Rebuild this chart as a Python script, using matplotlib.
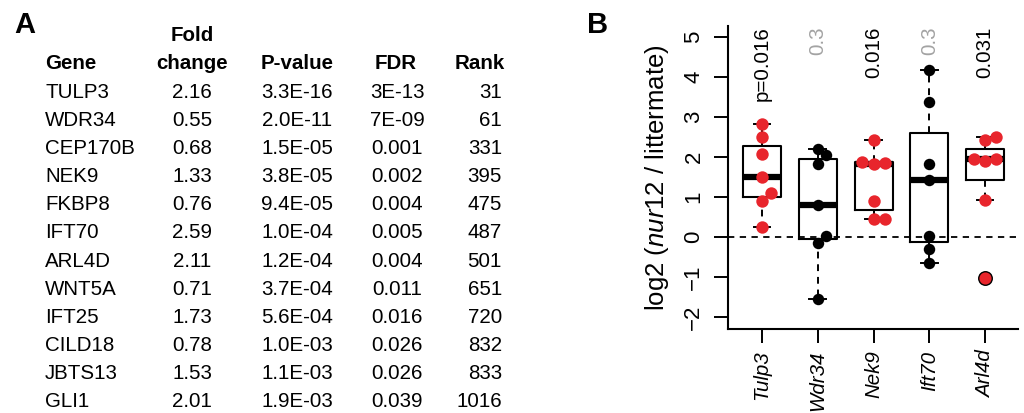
import numpy as np
import matplotlib
matplotlib.use("Agg")
import matplotlib.pyplot as plt

plt.rcParams['font.family'] = ['Liberation Sans', 'DejaVu Sans']
plt.rcParams['mathtext.fontset'] = 'custom'
plt.rcParams['mathtext.rm'] = 'Liberation Sans'
plt.rcParams['mathtext.it'] = 'Liberation Sans:italic'

# ---- panel A table ----
genes = ["TULP3", "WDR34", "CEP170B", "NEK9", "FKBP8", "IFT70", "ARL4D",
         "WNT5A", "IFT25", "CILD18", "JBTS13", "GLI1"]
fold_change = ["2.16", "0.55", "0.68", "1.33", "0.76", "2.59", "2.11",
               "0.71", "1.73", "0.78", "1.53", "2.01"]
p_values = ["3.3E-16", "2.0E-11", "1.5E-05", "3.8E-05", "9.4E-05", "1.0E-04",
            "1.2E-04", "3.7E-04", "5.6E-04", "1.0E-03", "1.1E-03", "1.9E-03"]
fdr = ["3E-13", "7E-09", "0.001", "0.002", "0.004", "0.005", "0.004",
       "0.011", "0.016", "0.026", "0.026", "0.039"]
rank = ["31", "61", "331", "395", "475", "487", "501", "651", "720",
        "832", "833", "1016"]

# ---- panel B data ----
b_genes = ["Tulp3", "Wdr34", "Nek9", "Ift70", "Arl4d"]
b_pvals = ["p=0.016", "0.3", "0.016", "0.3", "0.031"]
b_signif = [True, False, True, False, True]
b_values = [
    [2.82, 2.49, 2.08, 1.50, 1.11, 0.90, 0.26],
    [2.20, 2.05, 1.83, 0.80, 0.03, -0.15, -1.56],
    [2.43, 1.88, 1.83, 1.85, 0.90, 0.45, 0.45],
    [4.18, 3.37, 1.83, 1.42, 0.03, -0.30, -0.64],
    [2.51, 2.43, 1.94, 1.90, 1.96, 0.93, -1.03],
]
# horizontal offsets of the beeswarm points
b_offsets = [
    [0, 0, 0, 0, 0.16, 0, 0],
    [0, 0.15, 0, 0, 0.15, 0, 0],
    [0, -0.2, 0, 0.2, 0, 0, 0.2],
    [0, 0, 0, 0, 0, 0, 0],
    [0.19, 0, -0.2, 0, 0.19, 0, 0],
]

RED = '#e8252c'
W, H = 1024, 413
fig = plt.figure(figsize=(W / 100, H / 100), dpi=100)


def fx(px):
    return px / W


def fy(py):
    return 1 - py / H


fs = 14.8
fig.text(fx(14), fy(33), "A", fontsize=21, fontweight='bold', va='baseline')
fig.text(fx(587), fy(33), "B", fontsize=21, fontweight='bold', va='baseline')

head_y = 69
fig.text(fx(45), fy(head_y), "Gene", fontsize=fs, fontweight='bold')
fig.text(fx(192), fy(head_y - 28), "Fold", fontsize=fs, fontweight='bold', ha='center')
fig.text(fx(192), fy(head_y), "change", fontsize=fs, fontweight='bold', ha='center')
fig.text(fx(297), fy(head_y), "P-value", fontsize=fs, fontweight='bold', ha='center')
fig.text(fx(396), fy(head_y), "FDR", fontsize=fs, fontweight='bold', ha='center')
fig.text(fx(505), fy(head_y), "Rank", fontsize=fs, fontweight='bold', ha='right')

for i in range(len(genes)):
    yb = fy(98 + 28.1 * i)
    fig.text(fx(45), yb, genes[i], fontsize=fs)
    fig.text(fx(192), yb, fold_change[i], fontsize=fs, ha='center')
    fig.text(fx(297), yb, p_values[i], fontsize=fs, ha='center')
    fig.text(fx(397), yb, fdr[i], fontsize=fs, ha='center')
    fig.text(fx(502), yb, rank[i], fontsize=fs, ha='right')

# ---- panel B plot ----
left, right, top, bottom = 728, 1018, 26, 329
ax = fig.add_axes([fx(left), fy(bottom), (right - left) / W, (bottom - top) / H])


def tukey_stats(vals):
    v = np.sort(np.asarray(vals))
    n = len(v)
    n4 = np.floor((n + 3) / 2) / 2
    d = np.array([1, n4, (n + 1) / 2, n + 1 - n4, n]) - 1
    five = 0.5 * (v[np.floor(d).astype(int)] + v[np.ceil(d).astype(int)])
    q1, med, q3 = five[1], five[2], five[3]
    iqr = q3 - q1
    lo_f, hi_f = q1 - 1.5 * iqr, q3 + 1.5 * iqr
    inside = v[(v >= lo_f) & (v <= hi_f)]
    return dict(med=med, q1=q1, q3=q3, whislo=inside.min(), whishi=inside.max(),
                fliers=v[(v < lo_f) | (v > hi_f)])


stats = [tukey_stats(v) for v in b_values]
pos = np.arange(1, len(b_genes) + 1)
ax.bxp(stats, positions=pos, widths=0.68, showfliers=False, capwidths=0.3,
       boxprops=dict(color='black', linewidth=1.5),
       medianprops=dict(color='black', linewidth=4.5, solid_capstyle='butt'),
       whiskerprops=dict(color='black', linewidth=1.4, linestyle=(0, (3.5, 3))),
       capprops=dict(color='black', linewidth=1.4), zorder=2)

ax.axhline(0, color='black', lw=1.3, ls=(0, (3.5, 3)), zorder=1)

for i, (vals, offs) in enumerate(zip(b_values, b_offsets)):
    col = RED if b_signif[i] else 'black'
    xs = pos[i] + np.array(offs)
    vals = np.array(vals)
    out = np.isin(vals, stats[i]['fliers'])
    ax.scatter(xs[~out], vals[~out], s=80 if b_signif[i] else 68, color=col,
               lw=0, zorder=3)
    ax.scatter(xs[out], vals[out], s=95, color=col, edgecolor='black',
               lw=1.0, zorder=3)
    ax.text(pos[i], 5.27, b_pvals[i], rotation=90, ha='center', va='top',
            fontsize=fs, color='black' if b_signif[i] else '#a3a3a3')

ax.set_xlim(0.39, 5.59)
ax.set_ylim(-2.3, 5.275)
ax.set_yticks(range(-2, 6))
ax.set_xticks(pos)
ax.set_xticklabels(b_genes, rotation=90, fontstyle='italic', fontsize=fs)
ax.tick_params(axis='y', labelrotation=90, labelsize=16, length=10, width=1.4, pad=7)
ax.tick_params(axis='x', length=10, width=1.4, pad=5.5)
for lab in ax.get_yticklabels():
    lab.set_va('center')
for s in ['top', 'right']:
    ax.spines[s].set_visible(False)
for s in ['left', 'bottom']:
    ax.spines[s].set_linewidth(1.5)
ax.patch.set_alpha(0)

fig.text(fx(657), fy((top + bottom) / 2), r"log2 ($\mathit{nur12}$ / littermate)",
         rotation=90, ha='center', va='center', fontsize=18.5)

fig.savefig("out.png", dpi=100)
